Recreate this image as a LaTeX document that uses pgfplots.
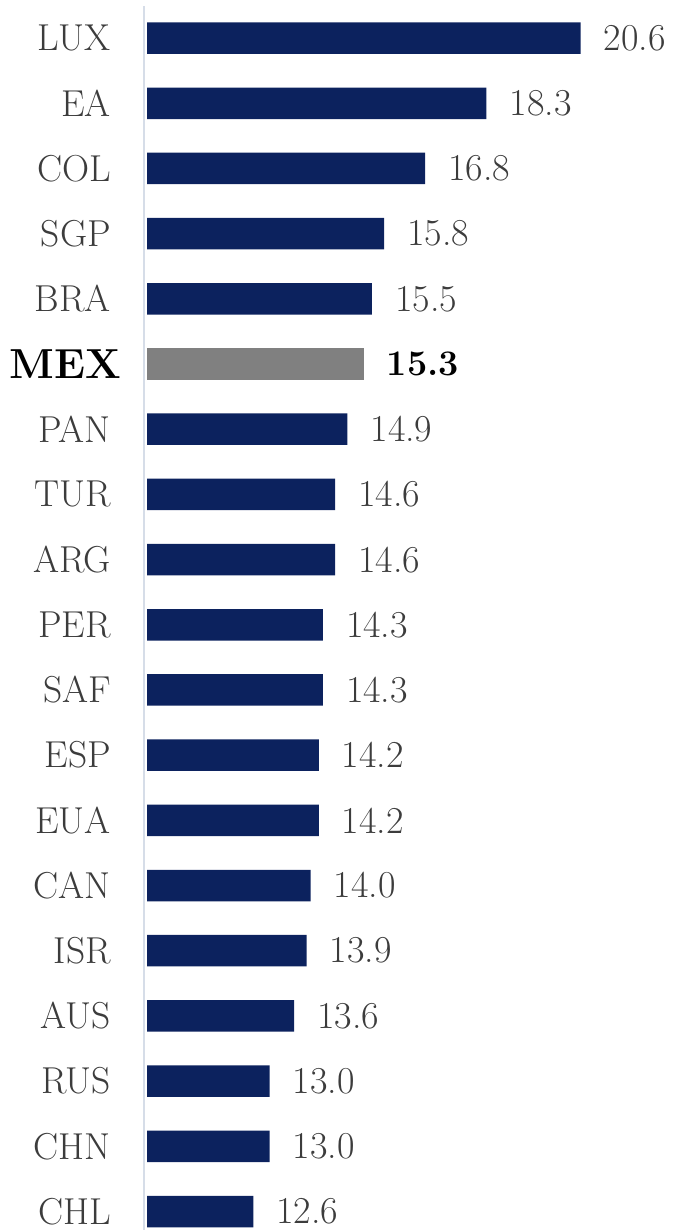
\documentclass[border=0pt]{standalone}
\usepackage{pgfplots}
\pgfplotsset{compat=1.18}
\definecolor{navy}{RGB}{12,34,94}
\definecolor{mexgray}{RGB}{128,128,128}
\definecolor{axisline}{RGB}{214,221,232}
\definecolor{labelgray}{RGB}{60,60,60}
\begin{document}
\begin{tikzpicture}
\useasboundingbox (0,0) rectangle (678pt,1230pt);
% thin guide line left of the bars
\draw[axisline, line width=1.2pt] (144pt,0pt) -- (144pt,1224pt);
\begin{axis}[
    at={(147pt,2.2pt)}, anchor=south west,
    scale only axis, width=490.8pt, height=1206pt,
    xmin=10, xmax=22, ymin=-0.25, ymax=18.25,
    xbar, bar width=31.5pt, bar shift=0pt,
    axis line style={draw=none},
    xtick=\empty, major tick length=0pt,
    ytick={0,...,18},
    yticklabels={CHL,CHN,RUS,AUS,ISR,CAN,EUA,ESP,SAF,PER,ARG,TUR,PAN,
        {\color{black}\fontsize{42}{46}\selectfont\bfseries MEX\kern-10pt},
        BRA,SGP,COL,EA,LUX},
    yticklabel style={font=\fontsize{37.5}{42}\selectfont, text=labelgray,
        anchor=east, inner sep=0pt, xshift=-36pt},
    point meta=x,
    nodes near coords={\pgfmathprintnumber[fixed,fixed zerofill,precision=1,assume math mode=true]{\pgfplotspointmeta}},
    every node near coord/.append style={font=\fontsize{38}{42}\selectfont,
        text=labelgray, anchor=west, inner sep=0pt, xshift=23pt},
]
\addplot[fill=navy, draw=none] coordinates {
    (12.6,0) (13.0,1) (13.0,2) (13.6,3) (13.9,4) (14.0,5) (14.2,6)
    (14.2,7) (14.3,8) (14.3,9) (14.6,10) (14.6,11) (14.9,12)
    (15.5,14) (15.8,15) (16.8,16) (18.3,17) (20.6,18)};
\addplot[fill=mexgray, draw=none,
    every node near coord/.append style={font=\fontsize{36}{40}\selectfont\bfseries, text=black}]
    coordinates {(15.3,13)};
\end{axis}
\end{tikzpicture}
\end{document}
